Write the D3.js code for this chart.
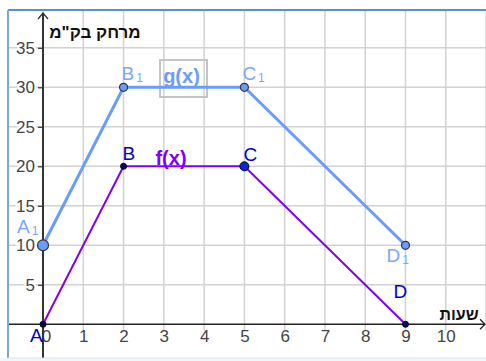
<!DOCTYPE html>
<html>
<head>
<meta charset="utf-8">
<script src="https://cdn.jsdelivr.net/npm/d3@7"></script>
<style>
  body { margin: 0; background: #fff; }
  svg { display: block; font-family: "Liberation Sans", Arial, sans-serif; }
</style>
</head>
<body>
<div id="chart"></div>
<script>
// chart values
const hours = [0, 2, 5, 9];
const fValues = [0, 20, 20, 0];
const gValues = [10, 30, 30, 10];
const fNames = ["A", "B", "C", "D"];
const gNames = ["A", "B", "C", "D"];
const xTicks = [0, 1, 2, 3, 4, 5, 6, 7, 8, 9, 10];
const yTicks = [5, 10, 15, 20, 25, 30, 35];
const xTitle = "שעות";
const yTitle = "מרחק בק\"מ";

const width = 486, height = 361;
const frame = {left: 8, top: 10, right: 486, bottom: 358};

const svg = d3.select("#chart").append("svg")
    .attr("width", width)
    .attr("height", height);

// scales: x 0..9 hours, y 0..30 km
const xScale = d3.scaleLinear().domain([0, 9]).range([43, 405.5]);
const yScale = d3.scaleLinear().domain([0, 30]).range([324.3, 87.3]);

svg.append("clipPath").attr("id", "frameClip")
  .append("rect")
    .attr("x", frame.left).attr("y", frame.top)
    .attr("width", frame.right - frame.left)
    .attr("height", frame.bottom - frame.top);

const plot = svg.append("g").attr("clip-path", "url(#frameClip)");

// background strip below the frame
svg.append("rect")
    .attr("x", 0).attr("y", frame.bottom)
    .attr("width", width).attr("height", height - frame.bottom)
    .attr("fill", "#f2f5f9");

// grid
const y0 = yScale(0);
plot.append("g").selectAll("line")
  .data(d3.range(-1, 12))
  .join("line")
    .attr("x1", d => xScale(d)).attr("x2", d => xScale(d))
    .attr("y1", frame.top).attr("y2", y0 + 6)
    .attr("stroke", "#d2d2d2").attr("stroke-width", 1.5);

plot.append("g").selectAll("line")
  .data(d3.range(5, 45, 5))
  .join("line")
    .attr("x1", frame.left).attr("x2", frame.right)
    .attr("y1", d => yScale(d)).attr("y2", d => yScale(d))
    .attr("stroke", "#d2d2d2").attr("stroke-width", 1.5);

// axes
const yAxis = d3.axisLeft(yScale).tickValues(yTicks).tickSize(5).tickPadding(3);
const yAxisG = plot.append("g")
    .attr("transform", `translate(${xScale(0)},0)`)
    .call(yAxis);
yAxisG.select(".domain").remove();
yAxisG.selectAll(".tick line").attr("stroke", "#333").attr("stroke-width", 1.2);
yAxisG.selectAll(".tick text")
    .attr("font-size", 17)
    .attr("font-family", "Liberation Sans, Arial, sans-serif")
    .attr("fill", "#444")
    .attr("stroke", "#fff").attr("stroke-width", 4)
    .attr("paint-order", "stroke");

const xAxis = d3.axisBottom(xScale).tickValues(xTicks).tickSize(0).tickPadding(6);
const xAxisG = plot.append("g")
    .attr("transform", `translate(0,${y0})`)
    .call(xAxis);
xAxisG.select(".domain").remove();
xAxisG.selectAll(".tick text")
    .attr("font-size", 17)
    .attr("font-family", "Liberation Sans, Arial, sans-serif")
    .attr("fill", "#444")
    .attr("dx", d => d === 0 ? 3 : 0);

// axis lines with arrows
plot.append("line")
    .attr("x1", frame.left).attr("x2", frame.right - 1)
    .attr("y1", y0).attr("y2", y0)
    .attr("stroke", "#222").attr("stroke-width", 1.5);
plot.append("path")
    .attr("d", `M${frame.right - 6},${y0 - 5}L${frame.right - 1},${y0}L${frame.right - 6},${y0 + 5}`)
    .attr("fill", "none").attr("stroke", "#222").attr("stroke-width", 1.3);

plot.append("line")
    .attr("x1", xScale(0)).attr("x2", xScale(0))
    .attr("y1", 13).attr("y2", frame.bottom)
    .attr("stroke", "#333").attr("stroke-width", 2);
plot.append("path")
    .attr("d", `M${xScale(0) - 5},19L${xScale(0)},13L${xScale(0) + 5},19`)
    .attr("fill", "none").attr("stroke", "#333").attr("stroke-width", 1.3);

// axis titles
svg.append("text")
    .attr("x", 95).attr("y", 38)
    .attr("text-anchor", "middle")
    .attr("font-size", 17).attr("font-weight", "bold")
    .attr("fill", "#111")
    .text(yTitle);
svg.append("text")
    .attr("x", 459).attr("y", 320)
    .attr("text-anchor", "middle")
    .attr("font-size", 16).attr("font-weight", "bold")
    .attr("fill", "#111")
    .text(xTitle);

// series
const line = d3.line().x(d => xScale(d.x)).y(d => yScale(d.y));
const gData = hours.map((h, i) => ({x: h, y: gValues[i], name: gNames[i]}));
const fData = hours.map((h, i) => ({x: h, y: fValues[i], name: fNames[i]}));

// g(x) label box
svg.append("rect")
    .attr("x", 160).attr("y", 60).attr("width", 47).attr("height", 37)
    .attr("fill", "none").attr("stroke", "#c4c4c4").attr("stroke-width", 2);

svg.append("path").datum(gData)
    .attr("d", line)
    .attr("fill", "none").attr("stroke", "#6a9cff").attr("stroke-width", 3);
svg.append("path").datum(fData)
    .attr("d", line)
    .attr("fill", "none").attr("stroke", "#7f00ff").attr("stroke-width", 2);

svg.append("text")
    .attr("x", 181.5).attr("y", 83)
    .attr("text-anchor", "middle")
    .attr("font-size", 20).attr("font-weight", "bold")
    .attr("fill", "#6a9cff")
    .text("g(x)");
svg.append("text")
    .attr("x", 171).attr("y", 164.5)
    .attr("text-anchor", "middle")
    .attr("font-size", 20).attr("font-weight", "bold")
    .attr("fill", "#7f00ff")
    .text("f(x)");

// points
svg.append("g").selectAll("circle")
  .data(gData)
  .join("circle")
    .attr("cx", d => xScale(d.x)).attr("cy", d => yScale(d.y))
    .attr("r", (d, i) => i === 0 ? 5.5 : 4)
    .attr("fill", "#6a9cff").attr("stroke", "#333").attr("stroke-width", 1.2);

svg.append("g").selectAll("circle")
  .data(fData)
  .join("circle")
    .attr("cx", d => xScale(d.x)).attr("cy", d => yScale(d.y))
    .attr("r", (d, i) => i === 2 ? 4.5 : 3)
    .attr("fill", (d, i) => i === 2 ? "#0a2acc" : "#0a0a50")
    .attr("stroke", "#000030").attr("stroke-width", 1);

// point labels (offsets in px)
const gOffsets = [[-26, -12], [-2, -7], [-2, -7], [-19, 17]];
const fOffsets = [[-13, 18], [-1, -6], [-1, -5], [-12, -26]];

const gLab = svg.append("g").selectAll("text")
  .data(gData)
  .join("text")
    .attr("x", (d, i) => xScale(d.x) + gOffsets[i][0])
    .attr("y", (d, i) => yScale(d.y) + gOffsets[i][1])
    .attr("font-size", 19)
    .attr("fill", "#7aa6ff");
gLab.append("tspan").text(d => d.name);
gLab.append("tspan").attr("dx", 2).attr("dy", 2).attr("font-size", 12).text("1");

svg.append("g").selectAll("text")
  .data(fData)
  .join("text")
    .attr("x", (d, i) => xScale(d.x) + fOffsets[i][0])
    .attr("y", (d, i) => yScale(d.y) + fOffsets[i][1])
    .attr("font-size", 19)
    .attr("fill", "#0000cc")
    .text(d => d.name);

// frame border
svg.append("line")
    .attr("x1", frame.left).attr("x2", frame.right)
    .attr("y1", frame.top).attr("y2", frame.top)
    .attr("stroke", "#5b8fd1").attr("stroke-width", 2);
svg.append("line")
    .attr("x1", frame.left).attr("x2", frame.left)
    .attr("y1", frame.top).attr("y2", frame.bottom)
    .attr("stroke", "#7ea6d9").attr("stroke-width", 2);
svg.append("line")
    .attr("x1", frame.left).attr("x2", frame.right)
    .attr("y1", frame.bottom).attr("y2", frame.bottom)
    .attr("stroke", "#dbe4ee").attr("stroke-width", 1);
</script>
</body>
</html>
